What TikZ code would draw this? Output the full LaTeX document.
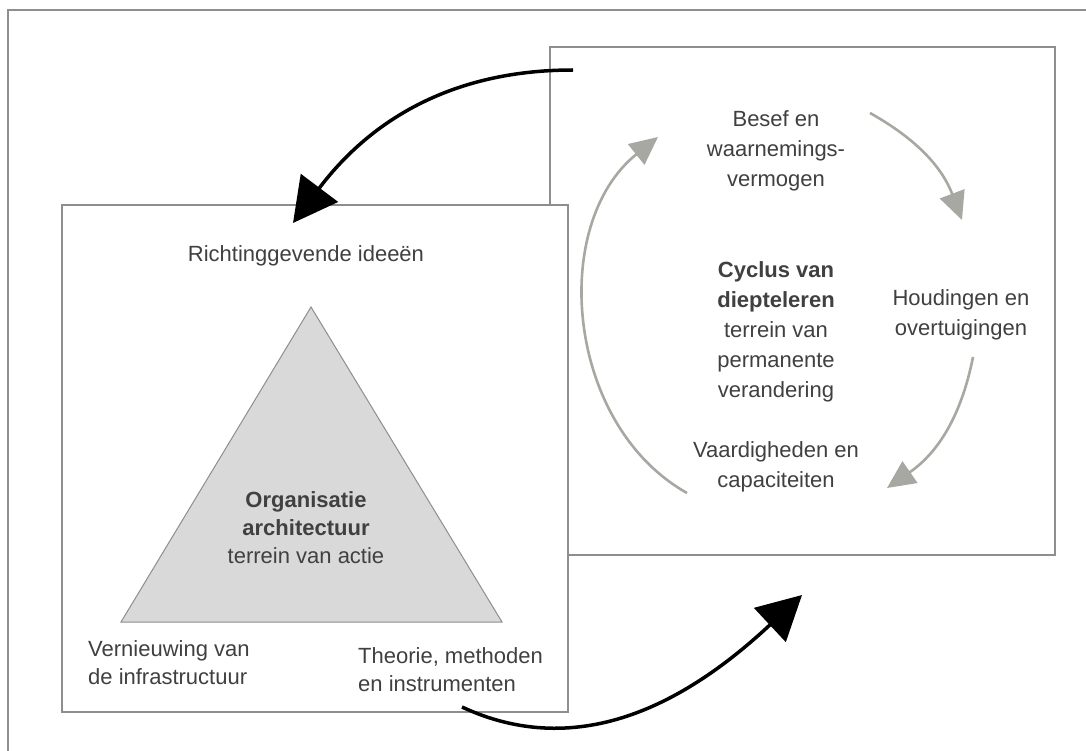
\documentclass[tikz,border=0pt]{standalone}
\usepackage{fontspec}
\setmainfont{Liberation Sans}
\usepackage{tikz}
\usetikzlibrary{arrows.meta}
\usetikzlibrary{positioning}
\definecolor{KaderGrijs}{HTML}{8E8E8E}
\definecolor{TekstGrijs}{HTML}{404040}
\definecolor{CyclusGrijs}{HTML}{A8A8A2}
\definecolor{VlakGrijs}{HTML}{D9D9D9}

\begin{document}
\begin{tikzpicture}[x=1pt,y=1pt,
    tekst/.style={text=TekstGrijs, align=center, inner sep=0pt,
      font=\fontsize{22}{30}\selectfont},
    kader/.style={draw=KaderGrijs, line width=1.3pt, fill=white},
    zwartepijl/.style={line width=3.5pt, -{Triangle[length=44pt,width=46pt]}},
    grijzepijl/.style={CyclusGrijs, line width=2.6pt, -{Triangle[length=28pt,width=26pt]}}]
  \useasboundingbox (0,0) rectangle (1086,-751);
  % buitenkader, alleen boven en links zichtbaar
  \draw[KaderGrijs, line width=1.5pt] (1086,-10) -- (8,-10) -- (8,-751);

  % rechts: cyclus van diepteleren
  \draw[kader] (550,-47) rectangle (1055,-555);
  \node[tekst] (besef) at (776,-151) {Besef en\\waarnemings-\\vermogen};
  \node[tekst] (cyclus) at (776,-332)
    {\textbf{Cyclus van}\\\textbf{diepteleren}\\terrein van\\permanente\\verandering};
  \node[tekst] (houding) at (961,-315) {Houdingen en\\overtuigingen};
  \node[tekst] (vaardig) at (776,-467) {Vaardigheden en\\capaciteiten};
  \coordinate (g1a) at (870,-113);
  \coordinate (g1b) at (962,-220);
  \coordinate (g2a) at (973,-357);
  \coordinate (g2b) at (887,-488);
  \coordinate (g3a) at (687,-493);
  \coordinate (g3b) at (658,-137);
  \draw[grijzepijl] (g1a) to[bend left=20] (g1b);
  \draw[grijzepijl] (g2a) to[bend left=22] (g2b);
  \draw[grijzepijl] (g3a) to[bend left=56] (g3b);

  % links: organisatie architectuur
  \draw[kader] (62,-205) rectangle (568,-712);
  \coordinate (top) at (311,-307);
  \coordinate (linksonder) at (121,-622);
  \coordinate (rechtsonder) at (502,-622);
  \draw[draw=KaderGrijs, fill=VlakGrijs, line width=1pt]
    (top) -- (linksonder) -- (rechtsonder) -- cycle;
  \node[tekst] (richting) at (306,-256) {Richtinggevende ideeën};
  \node[tekst, font=\fontsize{22}{28}\selectfont] (orgarch) at (306,-528)
    {\textbf{Organisatie}\\\textbf{architectuur}\\terrein van actie};
  \node[tekst, align=left, anchor=west, font=\fontsize{22}{28}\selectfont] (vernieuw) at (88,-663)
    {Vernieuwing van\\de infrastructuur};
  \node[tekst, align=left, anchor=west, font=\fontsize{22}{28}\selectfont] (theorie) at (358,-670)
    {Theorie, methoden\\en instrumenten};

  % zwarte pijlen tussen de vakken
  \coordinate (p1a) at (573,-70);
  \coordinate (p1b) at (293,-223);
  \coordinate (p2a) at (462,-707);
  \coordinate (p2b) at (802,-595);
  \draw[zwartepijl] (p1a) to[out=180,in=53] (p1b);
  \draw[zwartepijl] (p2a) to[out=-25,in=223] (p2b);
\end{tikzpicture}
\end{document}
